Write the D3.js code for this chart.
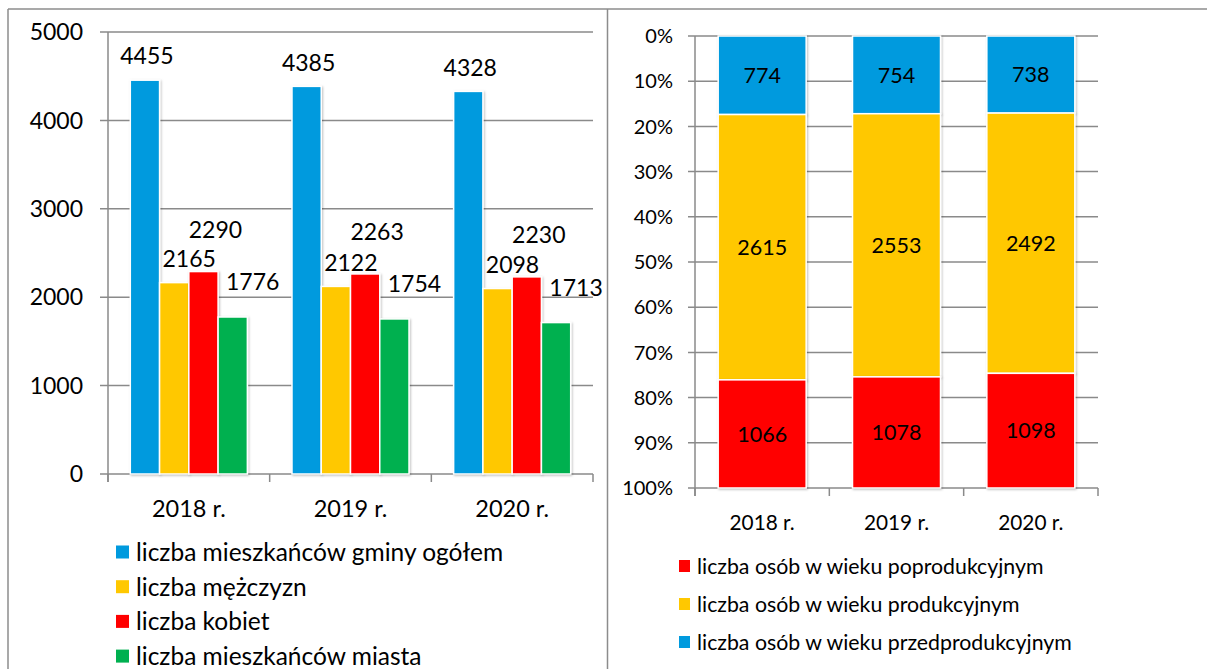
<!DOCTYPE html>
<html>
<head>
<meta charset="utf-8">
<script src="https://cdn.jsdelivr.net/npm/d3@7"></script>
<style>
	body { margin: 0; background: #fff; }
	text { font-family: Lato, "Noto Sans", sans-serif; fill: #000; }
</style>
</head>
<body>
<svg id="chart" width="1207" height="669"></svg>
<script>
// data
const years = ["2018 r.", "2019 r.", "2020 r."];

const popSeries = ["liczba mieszkańców gminy ogółem", "liczba mężczyzn", "liczba kobiet", "liczba mieszkańców miasta"];
const popTotal = [4455, 4385, 4328];
const popMen = [2165, 2122, 2098];
const popWomen = [2290, 2263, 2230];
const popCity = [1776, 1754, 1713];
const popTicks = [0, 1000, 2000, 3000, 4000, 5000];

const ageSeries = ["liczba osób w wieku przedprodukcyjnym", "liczba osób w wieku produkcyjnym", "liczba osób w wieku poprodukcyjnym"];
const agePre = [774, 754, 738];
const ageWork = [2615, 2553, 2492];
const agePost = [1066, 1078, 1098];
const pctTicks = [0, 10, 20, 30, 40, 50, 60, 70, 80, 90, 100];

const blue = "#009ADE", yellow = "#FFC800", red = "#FF0000", green = "#00B050";
const gridColor = "#8a8a8a";

let chart = d3.select("#chart");

// shadow like excel
let defs = chart.append("defs");
let filt = defs.append("filter").attr("id", "shadow").attr("x", "-20%").attr("y", "-20%").attr("width", "140%").attr("height", "140%");
filt.append("feDropShadow").attr("dx", 1).attr("dy", 1).attr("stdDeviation", 1.2).attr("flood-color", "#000").attr("flood-opacity", 0.25);

// frame lines
chart.append("g")
	.attr("stroke", "#8c8c8c")
	.attr("stroke-width", 1.5)
	.selectAll("line")
	.data([[8, 9, 1207, 9], [8, 9, 8, 669], [607.5, 9, 607.5, 669]])
	.join("line")
		.attr("x1", d => d[0]).attr("y1", d => d[1])
		.attr("x2", d => d[2]).attr("y2", d => d[3]);

// ---------- left chart: grouped bars ----------
const leftChart = () => {
	let g = chart.append("g");
	let x0 = 108, x1 = 593, yTop = 32, yBot = 474;
	let fs = 23;

	let y = d3.scaleLinear().domain([0, 5000]).range([yBot, yTop]);
	let x = d3.scaleBand().domain(years).range([x0, x1]).padding(0);
	let inner = d3.scaleBand().domain(popSeries).range([x.bandwidth() * 0.138, x.bandwidth() * 0.862]).padding(0);

	let values = [popTotal, popMen, popWomen, popCity];
	let colors = [blue, yellow, red, green];
	// label nudges (excel labels were dragged by hand)
	let labelShift = [[2, -24], [15, -24], [12, -42], [20, -35]];

	let rows = [];
	years.forEach((yr, i) => {
		popSeries.forEach((s, j) => {
			rows.push({ year: yr, series: s, j: j, value: values[j][i] });
		});
	});

	// gridlines
	g.append("g")
		.attr("stroke", gridColor)
		.attr("stroke-width", 1.5)
		.selectAll("line")
		.data(popTicks)
		.join("line")
			.attr("x1", x0 - 8).attr("x2", x1)
			.attr("y1", d => y(d)).attr("y2", d => y(d));

	// y axis line + labels
	g.append("line").attr("x1", x0).attr("x2", x0).attr("y1", yTop).attr("y2", yBot + 8)
		.attr("stroke", gridColor).attr("stroke-width", 1.5);
	g.selectAll("text.ytick")
		.data(popTicks)
		.join("text")
			.attr("class", "ytick")
			.attr("x", 83)
			.attr("y", d => y(d))
			.attr("dy", "0.36em")
			.attr("text-anchor", "end")
			.style("font-size", fs + "px")
			.text(d => d);

	// x ticks at category edges
	g.append("g")
		.attr("stroke", gridColor)
		.attr("stroke-width", 1.5)
		.selectAll("line")
		.data(years.concat(["end"]))
		.join("line")
			.attr("x1", (d, i) => x0 + i * x.step()).attr("x2", (d, i) => x0 + i * x.step())
			.attr("y1", yBot).attr("y2", yBot + 8);

	g.selectAll("text.xtick")
		.data(years)
		.join("text")
			.attr("class", "xtick")
			.attr("x", d => x(d) + x.bandwidth() / 2)
			.attr("y", 509)
			.attr("dy", "0.36em")
			.attr("text-anchor", "middle")
			.style("font-size", (fs + 0.5) + "px")
			.text(d => d);

	// bars
	g.append("g")
		.selectAll("rect")
		.data(rows)
		.join("rect")
			.attr("x", d => x(d.year) + inner(d.series))
			.attr("y", d => y(d.value))
			.attr("width", inner.bandwidth())
			.attr("height", d => yBot - y(d.value))
			.attr("fill", d => colors[d.j])
			.attr("stroke", "#fff")
			.attr("stroke-width", 1.5)
			.attr("filter", "url(#shadow)");

	g.append("g")
		.selectAll("text")
		.data(rows)
		.join("text")
			.attr("x", d => x(d.year) + inner(d.series) + inner.bandwidth() / 2 + labelShift[d.j][0])
			.attr("y", d => y(d.value) + labelShift[d.j][1])
			.attr("dy", "0.36em")
			.attr("text-anchor", "middle")
			.style("font-size", fs + "px")
			.text(d => d.value);

	// legend
	let leg = g.append("g")
		.selectAll("g")
		.data(popSeries)
		.join("g")
			.attr("transform", (d, i) => `translate(116, ${552 + i * 34.7})`);
	leg.append("rect")
		.attr("x", 0).attr("y", -6.5)
		.attr("width", 13).attr("height", 13)
		.attr("fill", (d, i) => colors[i]);
	leg.append("text")
		.attr("x", 20)
		.attr("dy", "0.36em")
		.style("font-size", "24.5px")
		.text(d => d);
}

// ---------- right chart: 100% stacked bars ----------
const rightChart = () => {
	let g = chart.append("g");
	let x0 = 695, x1 = 1098, yTop = 36, yBot = 488;
	let fs = 20;

	let y = d3.scaleLinear().domain([0, 100]).range([yTop, yBot]);
	let x = d3.scaleBand().domain(years).range([x0, x1]).padding(0);
	let barW = x.bandwidth() * 0.655;

	let table = years.map((yr, i) => ({ year: yr, pre: agePre[i], work: ageWork[i], post: agePost[i] }));
	let stack = d3.stack().keys(["pre", "work", "post"]).offset(d3.stackOffsetExpand);
	let layers = stack(table);
	let colors = [blue, yellow, red];

	g.append("g")
		.attr("stroke", gridColor)
		.attr("stroke-width", 1.5)
		.selectAll("line")
		.data(pctTicks)
		.join("line")
			.attr("x1", x0 - 7).attr("x2", x1)
			.attr("y1", d => y(d)).attr("y2", d => y(d));

	g.append("line").attr("x1", x0).attr("x2", x0).attr("y1", yTop).attr("y2", yBot + 8)
		.attr("stroke", gridColor).attr("stroke-width", 1.5);

	g.selectAll("text.ytick")
		.data(pctTicks)
		.join("text")
			.attr("class", "ytick")
			.attr("x", 673)
			.attr("y", d => y(d))
			.attr("dy", "0.36em")
			.attr("text-anchor", "end")
			.style("font-size", fs + "px")
			.text(d => d + "%");

	g.append("g")
		.attr("stroke", gridColor)
		.attr("stroke-width", 1.5)
		.selectAll("line")
		.data(years.concat(["end"]))
		.join("line")
			.attr("x1", (d, i) => x0 + i * x.step()).attr("x2", (d, i) => x0 + i * x.step())
			.attr("y1", yBot).attr("y2", yBot + 8);

	g.selectAll("text.xtick")
		.data(years)
		.join("text")
			.attr("class", "xtick")
			.attr("x", d => x(d) + x.bandwidth() / 2)
			.attr("y", 523)
			.attr("dy", "0.36em")
			.attr("text-anchor", "middle")
			.style("font-size", "20.8px")
			.text(d => d);

	let layer = g.append("g")
		.selectAll("g")
		.data(layers)
		.join("g")
			.attr("fill", (d, i) => colors[i]);

	layer.selectAll("rect")
		.data(d => d)
		.join("rect")
			.attr("x", d => x(d.data.year) + (x.bandwidth() - barW) / 2)
			.attr("y", d => y(d[0] * 100))
			.attr("width", barW)
			.attr("height", d => y(d[1] * 100) - y(d[0] * 100))
			.attr("stroke", "#fff")
			.attr("stroke-width", 1.5)
			.attr("filter", "url(#shadow)");

	layers.forEach((l) => {
		g.append("g")
			.selectAll("text")
			.data(l)
			.join("text")
				.attr("x", d => x(d.data.year) + x.bandwidth() / 2)
				.attr("y", d => (y(d[0] * 100) + y(d[1] * 100)) / 2)
				.attr("dy", "0.36em")
				.attr("text-anchor", "middle")
				.style("font-size", "21.5px")
				.text(d => d.data[l.key]);
	});

	// legend order as in the original: bottom segment first
	let legOrder = [2, 1, 0];
	let leg = g.append("g")
		.selectAll("g")
		.data(legOrder)
		.join("g")
			.attr("transform", (d, i) => `translate(679, ${566 + i * 38})`);
	leg.append("rect")
		.attr("x", 0).attr("y", -6)
		.attr("width", 11).attr("height", 12)
		.attr("fill", d => colors[d]);
	leg.append("text")
		.attr("x", 18)
		.attr("dy", "0.36em")
		.style("font-size", "21.3px")
		.text(d => ageSeries[d]);
}

leftChart();
rightChart();
</script>
</body>
</html>
